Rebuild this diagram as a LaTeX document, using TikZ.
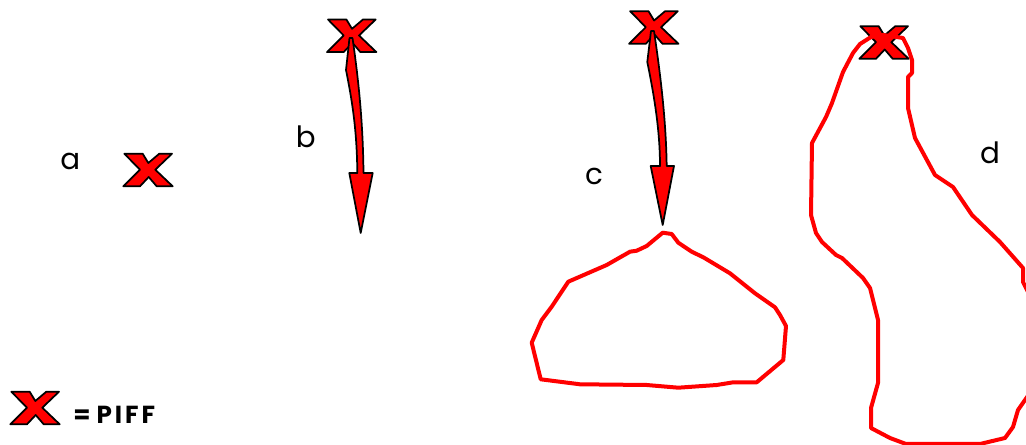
\documentclass[tikz,border=0pt]{standalone}
\usepackage{fontspec}
\setmainfont{Poppins}
\begin{document}
\begin{tikzpicture}[x=0.75pt,y=-0.75pt,
  xmark/.pic={\path[fill=red,draw=black,line width=1.3pt,line join=round]
     (-23.7,-16.3) -- (-5.3,-16.3) -- (0.3,-7) -- (11.3,-16.3) -- (24,-16.3) -- (7.3,-0.3)
     -- (24.7,16.3) -- (8.7,16.3) -- (0.7,7) -- (-8,16.3) -- (-24.7,16.3) -- (-8,-0.3) -- cycle;},
  arrowshape/.style={fill=red,draw=black,line width=1.3pt,line join=round},
  blob/.style={draw=red,line width=3pt,line join=round},
  lbl/.style={font=\fontsize{22}{26}\selectfont,anchor=base,inner sep=0pt}]
\useasboundingbox (0,0) rectangle (1026,445);
\begin{scope}
\clip (0,0) rectangle (1026,445);
% X marks
\pic (xa) at (148,170) {xmark};
\pic (xb) at (351.7,35.8) {xmark};
\pic (xc) at (653.8,27.5) {xmark};
\pic (xd) at (884,42.5) {xmark};
\pic (xl) at (35,408) {xmark};
% arrow b
\path[arrowshape] (349.5,38) -- (346,70) .. controls (352,100) and (357,130) .. (357.3,173)
  -- (349.3,173) -- (360.7,233) -- (372.7,173) -- (363.5,173)
  .. controls (363,130) and (360,90) .. (352.5,38) -- cycle;
% arrow c
\path[arrowshape] (651,31) -- (647.3,62) .. controls (654,95) and (660,130) .. (660,166)
  -- (650.7,166) -- (662.7,225) -- (674,166) -- (666.7,166)
  .. controls (666,125) and (662,85) .. (654,31) -- cycle;
% blob c
\draw[blob] (662.7,232.7) -- (671.7,234) -- (678.3,242.7) -- (691.7,251.7) -- (703.3,257.3)
  -- (730,273.3) -- (755,293.3) -- (775,307.3) -- (780,315) -- (786,326) -- (783.3,360)
  -- (756.7,382.3) -- (733.3,382.3) -- (716.7,385) -- (678.3,387.7) -- (646.7,385)
  -- (580,384.3) -- (540.7,379.3) -- (531.7,342.7) -- (541.7,320) -- (551.7,306.7)
  -- (568.3,281.7) -- (606.7,265) -- (630,251.7) -- (636.7,250.7) -- (646.7,246) -- cycle;
% blob d
\draw[blob] (871,37) -- (883,35) -- (903,38) -- (908,48) -- (912,60) -- (912,73) -- (908,77)
  -- (908,108) -- (915,138) -- (935,175) -- (953,187) -- (972,215) -- (1000,242) -- (1023,268)
  -- (1023,282) -- (1032,300) -- (1032,390) -- (1018,410) -- (1013,427) -- (1005,438)
  -- (980,444) -- (906,444) -- (890,438) -- (871,428) -- (871,408) -- (878,383) -- (878,320)
  -- (870,288) -- (863,278) -- (842,258) -- (836,255) -- (822,242) -- (816,233) -- (811,215)
  -- (812,143) -- (826,117) -- (832,103) -- (843,72) -- (853,53) -- (860,44) -- cycle;
\end{scope}
% labels
\node[lbl] (la) at (70.3,169.5) {a};
\node[lbl] (lb) at (305.7,147.3) {b};
\node[lbl] (lc) at (594,185) {c};
\node[lbl] (ld) at (990,163.3) {d};
\node[font=\bfseries\fontsize{18.5}{22}\selectfont\addfontfeature{LetterSpace=12},anchor=base west,inner sep=0pt] (leg) at (73,423.3) {=\hspace{0.25em}PIFF};
\end{tikzpicture}
\end{document}
